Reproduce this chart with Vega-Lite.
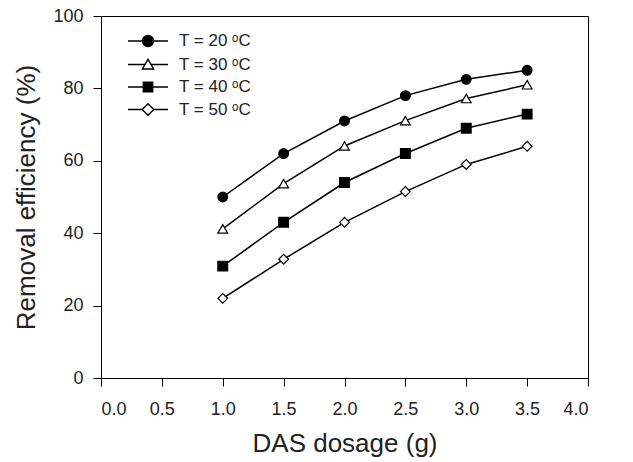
{
  "$schema": "https://vega.github.io/schema/vega-lite/v6.json",
  "width": 487,
  "height": 362,
  "autosize": {"type": "none"},
  "padding": {"left": 101, "top": 16, "right": 45, "bottom": 84},
  "background": "white",
  "config": {
    "view": {"stroke": "black", "strokeWidth": 1},
    "font": "Liberation Sans",
    "axis": {
      "labelFont": "Liberation Sans",
      "titleFont": "Liberation Sans",
      "labelFontSize": 18,
      "titleFontSize": 26,
      "titleFontWeight": "normal",
      "tickSize": 8,
      "tickColor": "black",
      "domainColor": "black",
      "labelColor": "#222",
      "titleColor": "#222",
      "grid": false
    },
    "axisX": {"labelPadding": 14, "titlePadding": 12},
    "axisY": {"labelPadding": 10, "titlePadding": 13}
  },
  "data": {
    "values": [
      {"dose": 1.0, "eff": 50.0, "T": "T = 20 ᵒC"},
      {"dose": 1.5, "eff": 62.0, "T": "T = 20 ᵒC"},
      {"dose": 2.0, "eff": 71.0, "T": "T = 20 ᵒC"},
      {"dose": 2.5, "eff": 78.0, "T": "T = 20 ᵒC"},
      {"dose": 3.0, "eff": 82.5, "T": "T = 20 ᵒC"},
      {"dose": 3.5, "eff": 85.0, "T": "T = 20 ᵒC"},
      {"dose": 1.0, "eff": 41.2, "T": "T = 30 ᵒC"},
      {"dose": 1.5, "eff": 53.7, "T": "T = 30 ᵒC"},
      {"dose": 2.0, "eff": 64.1, "T": "T = 30 ᵒC"},
      {"dose": 2.5, "eff": 71.1, "T": "T = 30 ᵒC"},
      {"dose": 3.0, "eff": 77.2, "T": "T = 30 ᵒC"},
      {"dose": 3.5, "eff": 81.0, "T": "T = 30 ᵒC"},
      {"dose": 1.0, "eff": 30.9, "T": "T = 40 ᵒC"},
      {"dose": 1.5, "eff": 43.0, "T": "T = 40 ᵒC"},
      {"dose": 2.0, "eff": 54.0, "T": "T = 40 ᵒC"},
      {"dose": 2.5, "eff": 62.0, "T": "T = 40 ᵒC"},
      {"dose": 3.0, "eff": 69.0, "T": "T = 40 ᵒC"},
      {"dose": 3.5, "eff": 72.9, "T": "T = 40 ᵒC"},
      {"dose": 1.0, "eff": 22.0, "T": "T = 50 ᵒC"},
      {"dose": 1.5, "eff": 32.8, "T": "T = 50 ᵒC"},
      {"dose": 2.0, "eff": 43.0, "T": "T = 50 ᵒC"},
      {"dose": 2.5, "eff": 51.5, "T": "T = 50 ᵒC"},
      {"dose": 3.0, "eff": 59.0, "T": "T = 50 ᵒC"},
      {"dose": 3.5, "eff": 64.0, "T": "T = 50 ᵒC"}
    ]
  },
  "resolve": {"scale": {"shape": "independent", "fill": "independent"}},
  "layer": [
    {
      "mark": {"type": "point", "opacity": 0, "filled": true},
      "encoding": {
        "x": {"field": "dose", "type": "quantitative", "title": "DAS dosage (g)",
              "scale": {"domain": [0, 4], "nice": false},
              "axis": {"values": [0, 0.5, 1, 1.5, 2, 2.5, 3, 3.5, 4], "format": ".1f"}},
        "y": {"field": "eff", "type": "quantitative", "title": "Removal efficiency (%)",
              "scale": {"domain": [0, 100], "nice": false},
              "axis": {"values": [0, 20, 40, 60, 80, 100]}},
        "shape": {"field": "T", "type": "nominal",
          "scale": {"range": [
            "M-2,0H-0.55M0.55,0H2M-0.55,0A0.55,0.55,0,1,0,0.55,0A0.55,0.55,0,1,0,-0.55,0Z",
            "M-2,0H-0.29M0.29,0H2M0,-0.52L0.56,0.45L-0.56,0.45Z",
            "M-2,0H-0.47M0.47,0H2M-0.47,-0.47H0.47V0.47H-0.47Z",
            "M-2,0H-0.58M0.58,0H2M-0.58,0L0,-0.58L0.58,0L0,0.58Z"
          ]},
          "legend": {"title": null, "orient": "none", "legendX": 36, "legendY": 14, "symbolSize": 400, "labelFontSize": 17, "labelOffset": 20, "rowPadding": 3.5, "symbolStrokeColor": "black", "symbolStrokeWidth": 1.4, "symbolOpacity": 1, "padding": 0, "labelColor": "#222", "labelFont": "Liberation Sans",
            "encode": {"symbols": {"update": {"stroke": {"value": "black"}, "strokeWidth": {"value": 1.4}, "opacity": {"value": 1}}}}}},
        "fill": {"field": "T", "type": "nominal",
          "scale": {"range": ["black", "white", "black", "white"]},
          "legend": {"title": null, "orient": "none", "legendX": 36, "legendY": 14, "symbolSize": 400, "labelFontSize": 17, "labelOffset": 20, "rowPadding": 3.5, "symbolStrokeColor": "black", "symbolStrokeWidth": 1.4, "symbolOpacity": 1, "padding": 0, "labelColor": "#222", "labelFont": "Liberation Sans",
            "encode": {"symbols": {"update": {"stroke": {"value": "black"}, "strokeWidth": {"value": 1.4}, "opacity": {"value": 1}}}}}}
      }
    },
    {
      "mark": {"type": "line", "color": "black", "strokeWidth": 1.5},
      "encoding": {
        "x": {"field": "dose", "type": "quantitative"},
        "y": {"field": "eff", "type": "quantitative"},
        "detail": {"field": "T"}
      }
    },
    {
      "mark": {"type": "point", "stroke": "black", "strokeWidth": 1.2, "opacity": 1, "size": 95, "filled": true},
      "encoding": {
        "x": {"field": "dose", "type": "quantitative"},
        "y": {"field": "eff", "type": "quantitative"},
        "shape": {"field": "T", "type": "nominal", "scale": {"range": ["circle", "triangle-up", "square", "diamond"]}, "legend": null},
        "fill": {"field": "T", "type": "nominal", "scale": {"range": ["black", "white", "black", "white"]}, "legend": null}
      }
    }
  ]
}
